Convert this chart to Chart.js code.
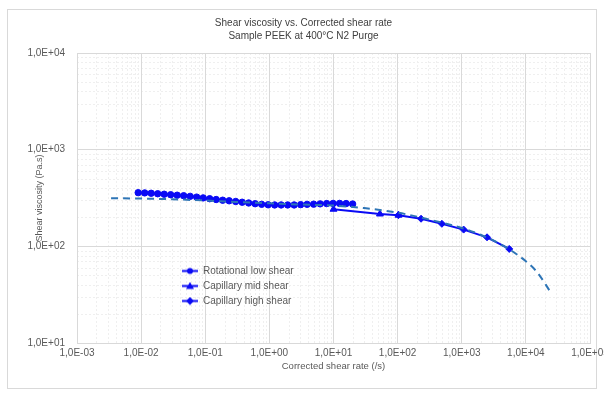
<!DOCTYPE html>
<html><head><meta charset="utf-8">
<script src="https://cdn.jsdelivr.net/npm/chart.js@4"></script>
<style>html,body{margin:0;padding:0;background:#fff}#wrap{position:relative;width:604px;height:396px}</style>
</head><body><div id="wrap"><canvas id="c" width="604" height="396"></canvas></div>
<script>
// ---- data ----
const rotShearRate = [0.009,0.01137,0.01435,0.01812,0.02289,0.0289,0.0365,0.04609,0.0582,0.0735,
  0.09282,0.1172,0.148,0.1869,0.236,0.2981,0.3764,0.4753,0.6002,0.758,
  0.9571,1.209,1.526,1.927,2.434,3.074,3.881,4.901,6.189,7.816,9.87,12.46,15.74,19.88];
const rotViscosity = [359,357,354,350,346,342,338,334,329,323,
  317,311,305,300,296,291,286,281,276,272,
  269,268,268,268,268,270,272,273,275,277,278,278,277,274];
const midShearRate = [10, 53, 103];
const midViscosity = [242, 216, 210];
const highShearRate = [103, 232, 490, 1070, 2480, 5500];
const highViscosity = [210, 193, 171, 149, 124, 94];
const fitShearRate = [0.0034, 0.01, 0.03, 0.1, 0.3, 1, 3, 10, 30, 100, 200, 500, 1000, 2000, 5000, 10000, 15000, 24000];
const fitViscosity = [315, 312, 307, 298, 288, 279, 271, 264, 249, 223, 203, 175, 155, 131, 97, 70, 54, 34];
const seriesNames = ['Rotational low shear', 'Capillary mid shear', 'Capillary high shear'];
const xTickValues = [1e-3, 1e-2, 1e-1, 1, 10, 100, 1000, 10000, 100000];
const xTickLabels = ['1,0E-03','1,0E-02','1,0E-01','1,0E+00','1,0E+01','1,0E+02','1,0E+03','1,0E+04','1,0E+05'];
const yTickValues = [10, 100, 1000, 10000];
const yTickLabels = ['1,0E+01','1,0E+02','1,0E+03','1,0E+04'];
const chartTitle = ['Shear viscosity vs. Corrected shear rate', 'Sample PEEK at 400°C N2 Purge'];
const xTitle = 'Corrected shear rate (/s)';
const yTitle = 'Shear viscosity (Pa.s)';

// ---- styling ----
const BLUE = '#0a0af5';
const FIT = '#2e75b6';
const FONT = 'Liberation Sans, Arial, sans-serif';
const TXT = '#595959';

function pts(xs, ys){ return xs.map((x,i)=>({x:x, y:ys[i]})); }

function legendIcon(style){
  const c = document.createElement('canvas');
  c.width = 16; c.height = 9;
  const g = c.getContext('2d');
  g.strokeStyle = BLUE; g.fillStyle = BLUE; g.lineWidth = 2;
  g.beginPath(); g.moveTo(0,4.5); g.lineTo(16,4.5); g.stroke();
  g.beginPath();
  if (style === 'circle') { g.arc(8,4.5,3,0,Math.PI*2); }
  else if (style === 'triangle') { g.moveTo(8,0.5); g.lineTo(12,7.5); g.lineTo(4,7.5); g.closePath(); }
  else { g.moveTo(8,0.5); g.lineTo(12,4.5); g.lineTo(8,8.5); g.lineTo(4,4.5); g.closePath(); }
  g.fill();
  return c;
}
const legendIcons = [legendIcon('circle'), legendIcon('triangle'), legendIcon('diamond')];

function minorValues(lo, hi){
  const out = [];
  for (let e = lo; e < hi; e++) for (let m = 2; m <= 9; m++) out.push(m*Math.pow(10,e));
  return out;
}
const background = {
  id: 'background',
  beforeDraw(chart){
    const {ctx, chartArea: a, scales: {x, y}} = chart;
    ctx.save();
    ctx.fillStyle = '#fff'; ctx.fillRect(0,0,chart.width,chart.height);
    ctx.strokeStyle = '#d9d9d9'; ctx.lineWidth = 1;
    ctx.strokeRect(7.5, 9.5, 589, 379);
    ctx.strokeStyle = '#efefef'; ctx.setLineDash([2,2]);
    minorValues(-3, 5).forEach(v => {
      const px = Math.round(x.getPixelForValue(v)) + 0.5;
      ctx.beginPath(); ctx.moveTo(px, a.top); ctx.lineTo(px, a.bottom); ctx.stroke();
    });
    minorValues(1, 4).forEach(v => {
      const py = Math.round(y.getPixelForValue(v)) + 0.5;
      ctx.beginPath(); ctx.moveTo(a.left, py); ctx.lineTo(a.right, py); ctx.stroke();
    });
    ctx.restore();
  }
};
const legendPlace = {
  id: 'legendPlace',
  afterLayout(chart){
    const l = chart.legend;
    const w = l.width, h = l.height;
    l.left = 177; l.top = 261; l.right = l.left + w; l.bottom = l.top + h;
  }
};

new Chart(document.getElementById('c'), {
  type: 'line',
  data: {
    datasets: [
      { label: seriesNames[0], data: pts(rotShearRate, rotViscosity), borderColor: BLUE, backgroundColor: BLUE,
        borderWidth: 2, pointStyle: 'circle', pointRadius: 3.2, pointBorderWidth: 1, pointBackgroundColor: BLUE, pointBorderColor: BLUE, order: 1 },
      { label: seriesNames[1], data: pts(midShearRate, midViscosity), borderColor: BLUE, backgroundColor: BLUE,
        borderWidth: 2, pointStyle: 'triangle', pointRadius: 4, pointBorderWidth: 1, pointBackgroundColor: BLUE, pointBorderColor: BLUE, order: 2 },
      { label: seriesNames[2], data: pts(highShearRate, highViscosity), borderColor: BLUE, backgroundColor: BLUE,
        borderWidth: 2, pointStyle: 'rectRot', pointRadius: 3.5, pointBorderWidth: 1, pointBackgroundColor: BLUE, pointBorderColor: BLUE, order: 3 },
      { label: 'fit', data: pts(fitShearRate, fitViscosity), borderColor: FIT, borderWidth: 2, borderDash: [7,5],
        pointRadius: 0, cubicInterpolationMode: 'monotone', order: 0 }
    ]
  },
  options: {
    responsive: false, animation: false, devicePixelRatio: 1,
    layout: { padding: { left: 17, right: 14, top: 0, bottom: 0 }, autoPadding: false },
    scales: {
      x: {
        type: 'logarithmic', min: 1e-3, max: 1e5,
        afterBuildTicks: s => { s.ticks = xTickValues.map(v => ({value: v})); },
        afterFit: s => { s.height = 53; s.paddingLeft = 0; s.paddingRight = 0; },
        ticks: { autoSkip: false, maxRotation: 0, minRotation: 0, padding: 4, color: TXT,
          font: { family: FONT, size: 10 }, callback: (v, i) => xTickLabels[i] },
        grid: { color: '#d9d9d9', drawTicks: false },
        border: { color: '#d9d9d9' },
        title: { display: true, text: xTitle, color: TXT, font: { family: FONT, size: 9.5 }, padding: { top: 0, bottom: 24.3 } }
      },
      y: {
        type: 'logarithmic', min: 10, max: 10000,
        afterBuildTicks: s => { s.ticks = yTickValues.map(v => ({value: v})); },
        afterFit: s => { s.width = 60; s.paddingTop = 0; s.paddingBottom = 0; },
        ticks: { autoSkip: false, padding: 12, color: TXT, font: { family: FONT, size: 10 },
          callback: (v, i) => yTickLabels[i] },
        grid: { color: '#d9d9d9', drawTicks: false },
        border: { color: '#d9d9d9' },
        title: { display: true, text: yTitle, color: TXT, font: { family: FONT, size: 9 }, padding: { top: 17.6, bottom: 0 } }
      }
    },
    plugins: {
      title: { display: true, text: chartTitle, color: '#404040', font: { family: FONT, size: 10, weight: 'normal', lineHeight: 1.35 },
        padding: { top: 16, bottom: 10 } },
      legend: {
        position: 'chartArea', align: 'start',
        labels: {
          usePointStyle: true, pointStyleWidth: 16, padding: 5, color: TXT, font: { family: FONT, size: 10 },
          generateLabels: chart => seriesNames.map((n, i) => ({
            text: n, pointStyle: legendIcons[i], fillStyle: BLUE, strokeStyle: BLUE, lineWidth: 0,
            hidden: false, datasetIndex: i, fontColor: TXT }))
        }
      },
      tooltip: { enabled: false }
    }
  },
  plugins: [background, legendPlace]
});
</script></body></html>
